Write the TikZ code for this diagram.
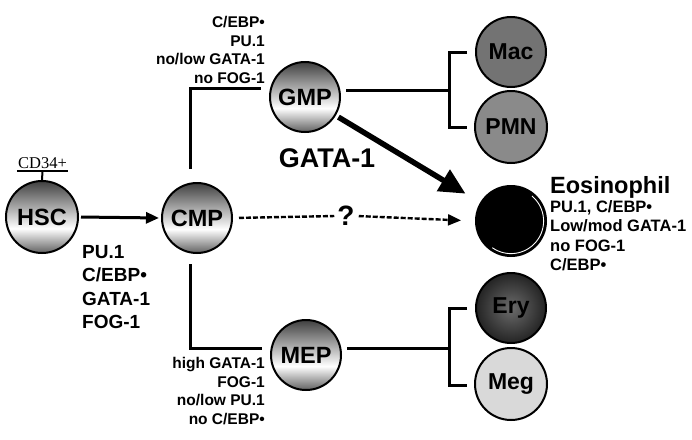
\documentclass[tikz,border=0pt]{standalone}
\usepackage{fontspec}
\setmainfont{Liberation Sans}
\newfontfamily\serifcd{Liberation Serif}
\usetikzlibrary{arrows.meta}
\newcommand\myfs[2]{\fontsize{#1}{#2}\selectfont}
\definecolor{shtop}{gray}{0.25}
\definecolor{shbot}{gray}{0.38}
\definecolor{macgray}{gray}{0.45}
\definecolor{pmngray}{gray}{0.54}
\definecolor{megray}{gray}{0.85}
\definecolor{erin}{gray}{0.42}
\definecolor{erout}{gray}{0.14}
\pgfdeclareverticalshading{cellshade}{100bp}{color(0bp)=(shbot); color(25bp)=(shbot); color(42bp)=(white); color(75bp)=(shtop); color(100bp)=(shtop)}
\tikzset{
  prog/.style={circle, draw=black, line width=2pt, shading=cellshade, inner sep=0pt, font=\bfseries\myfs{23.5}{26}},
  mature/.style={circle, draw=black, line width=2pt, inner sep=0pt, font=\bfseries\myfs{23}{26}},
  conn/.style={line width=3pt},
  arr/.style={conn, -{Triangle[length=13pt,width=11pt]}},
  dashconn/.style={line width=2.4pt, dash pattern=on 5pt off 2pt},
  lbl/.style={inner sep=0pt, font=\bfseries\myfs{15.5}{18.6}, align=right, anchor=north east},
}
\begin{document}
\begin{tikzpicture}[x=1pt,y=-1pt]
\useasboundingbox[fill=white] (0,0) rectangle (692,439);
% progenitors
\node[prog, minimum size=72pt] (HSC) at (42,217) {HSC};
\node[prog, minimum size=70pt] (CMP) at (197,218) {CMP};
\node[prog, minimum size=70pt] (GMP) at (305,97) {GMP};
\node[prog, minimum size=70pt] (MEP) at (306,355) {MEP};
% mature cells
\node[mature, minimum size=70pt, fill=macgray] (Mac) at (511,52) {Mac};
\node[mature, minimum size=72pt, fill=pmngray] (PMN) at (511,127) {PMN};
\node[mature, minimum size=70pt, fill=black] (Eos) at (511,221) {};
\node[mature, minimum size=70pt, inner color=erin, outer color=erout] (Ery) at (511,308) {Ery};
\node[mature, minimum size=72pt, fill=megray] (Meg) at (511,384) {Meg};
\begin{scope}[shift={(Eos.center)}, x=1pt, y=1pt]
  \draw[white, line width=0.9pt] (50:32.6) arc[start angle=50, end angle=-125, radius=32.6];
\end{scope}
% CD34+
\node[inner sep=0pt, font=\serifcd\myfs{16.5}{19}] (cd) at (42.5,163) {CD34+};
\draw[line width=1.8pt] ([xshift=-1pt,yshift=-3pt]cd.base west) -- ([xshift=1pt,yshift=-3pt]cd.base east);
\draw[line width=2pt] ([yshift=-3pt]cd.base) -- (HSC.north);
% main arrows
\draw[arr, shorten <=2pt, shorten >=2pt] (HSC.east) -- (CMP.west);
\draw[conn, shorten <=13pt, shorten >=8pt] ([xshift=-7pt]CMP.north) |- ([yshift=9pt]GMP.west);
\draw[conn, shorten <=10pt, shorten >=8pt] ([xshift=-7pt]CMP.south) |- ([yshift=7pt]MEP.west);
\node[inner sep=2pt, font=\bfseries\myfs{28}{30}] (q) at (346,216) {?};
\draw[dashconn, shorten <=6pt, shorten >=1pt] (CMP.east) -- (q.west);
\draw[dashconn, -{Triangle[length=13pt,width=11pt]}, shorten <=2pt, shorten >=14pt] (q.east) -- (Eos.west);
\draw[line width=5.5pt, -{Triangle[length=26pt,width=24pt]}, shorten <=3pt, shorten >=17pt] (GMP) -- (Eos);
\node[inner sep=0pt, font=\bfseries\myfs{27}{30}] (gata) at (327,158) {GATA-1};
% brackets
\coordinate (gb) at (449,90);
\coordinate (macT) at (467,52);
\coordinate (pmnT) at (467,127);
\draw[conn, shorten <=5pt] ([yshift=7pt]GMP.east) -- (gb);
\draw[conn] (macT) -- (macT -| gb) -- (pmnT -| gb) -- (pmnT);
\coordinate (eb) at (449,348);
\coordinate (eryT) at (467,308);
\coordinate (megT) at (467,385);
\draw[conn, shorten <=5pt] ([yshift=7pt]MEP.east) -- (eb);
\draw[conn] (eryT) -- (eryT -| eb) -- (megT -| eb) -- (megT);
% labels
\node[lbl] (gmpl) at (265,16) {C/EBP•\\PU.1\\no/low GATA-1\\no FOG-1};
\node[lbl] (mepl) at (265,357) {high GATA-1\\FOG-1\\no/low PU.1\\no C/EBP•};
\node[inner sep=0pt, anchor=north west, align=left, font=\bfseries\myfs{19}{23.5}] (hscl) at (82,245) {PU.1\\C/EBP•\\GATA-1\\FOG-1};
\node[inner sep=0pt, anchor=north west, font=\bfseries\myfs{23.5}{26}] (eost) at (550,176) {Eosinophil};
\node[inner sep=0pt, anchor=north west, align=left, font=\bfseries\myfs{16.5}{19.5}] (eosl) at (550,200) {PU.1, C/EBP•\\Low/mod GATA-1\\no FOG-1\\C/EBP•};
\end{tikzpicture}
\end{document}
